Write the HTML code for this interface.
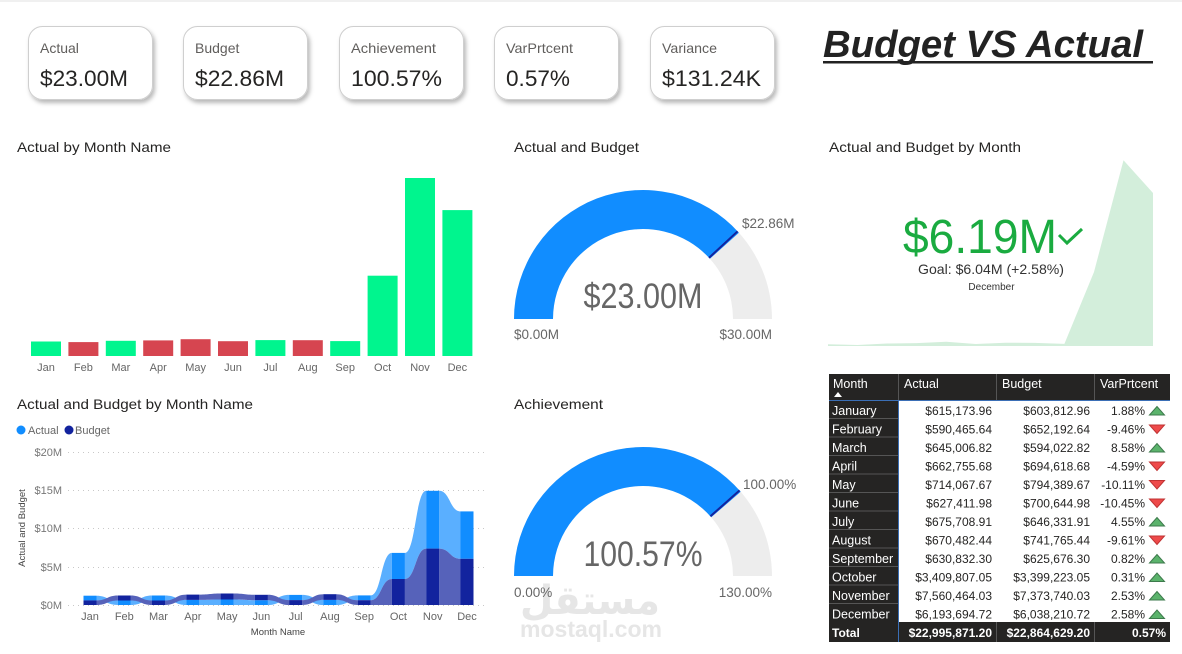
<!DOCTYPE html>
<html><head><meta charset="utf-8"><style>
html,body{margin:0;padding:0;background:#fff;}
svg{display:block;}
text{font-family:"Liberation Sans","DejaVu Sans",sans-serif;}
</style></head><body>
<svg width="1182" height="654" viewBox="0 0 1182 654" xmlns="http://www.w3.org/2000/svg">
<defs>
<filter id="sh" x="-20%" y="-20%" width="150%" height="160%">
<feDropShadow dx="2" dy="3" stdDeviation="2" flood-color="#000" flood-opacity="0.28"/>
</filter>
</defs>
<rect x="0" y="0" width="1182" height="654" fill="#fff"/>
<rect x="0" y="0" width="1182" height="2" fill="#f0f0f0"/>

<!-- KPI cards -->
<g filter="url(#sh)" fill="#fff" stroke="#cfcfcf" stroke-width="1">
<rect x="28.5" y="26.5" width="124" height="73" rx="14"/>
<rect x="183.5" y="26.5" width="124" height="73" rx="14"/>
<rect x="339.5" y="26.5" width="124" height="73" rx="14"/>
<rect x="494.5" y="26.5" width="124" height="73" rx="14"/>
<rect x="650.5" y="26.5" width="124" height="73" rx="14"/>
</g>
<g font-size="14" fill="#605e5c">
<text x="40" y="53">Actual</text>
<text x="195" y="53">Budget</text>
<text x="351" y="53" textLength="85" lengthAdjust="spacingAndGlyphs">Achievement</text>
<text x="506" y="53" textLength="67" lengthAdjust="spacingAndGlyphs">VarPrtcent</text>
<text x="662" y="53" textLength="55" lengthAdjust="spacingAndGlyphs">Variance</text>
</g>
<g font-size="22" fill="#252423">
<text x="40" y="86" textLength="88" lengthAdjust="spacingAndGlyphs">$23.00M</text>
<text x="195" y="86" textLength="89" lengthAdjust="spacingAndGlyphs">$22.86M</text>
<text x="351" y="86" textLength="91" lengthAdjust="spacingAndGlyphs">100.57%</text>
<text x="506" y="86" textLength="64" lengthAdjust="spacingAndGlyphs">0.57%</text>
<text x="662" y="86" textLength="99" lengthAdjust="spacingAndGlyphs">$131.24K</text>
</g>

<!-- Title -->
<text x="823" y="57" font-size="38" font-weight="bold" font-style="italic" fill="#222" textLength="320" lengthAdjust="spacingAndGlyphs">Budget VS Actual</text>
<rect x="823" y="61" width="330" height="2.5" fill="#222"/>

<!-- Section titles -->
<g font-size="14" fill="#252423">
<text x="17" y="152" textLength="154" lengthAdjust="spacingAndGlyphs">Actual by Month Name</text>
<text x="514" y="152" textLength="125" lengthAdjust="spacingAndGlyphs">Actual and Budget</text>
<text x="829" y="152" textLength="192" lengthAdjust="spacingAndGlyphs">Actual and Budget by Month</text>
<text x="17" y="409" textLength="236" lengthAdjust="spacingAndGlyphs">Actual and Budget by Month Name</text>
<text x="514" y="409" textLength="89" lengthAdjust="spacingAndGlyphs">Achievement</text>
</g>

<!-- Bar chart -->
<g>
<rect x="31" y="341.5" width="30" height="14.5" fill="#00f58e"/>
<rect x="68.4" y="342.1" width="30" height="13.9" fill="#d64550"/>
<rect x="105.8" y="340.8" width="30" height="15.2" fill="#00f58e"/>
<rect x="143.2" y="340.4" width="30" height="15.6" fill="#d64550"/>
<rect x="180.6" y="339.2" width="30" height="16.8" fill="#d64550"/>
<rect x="218" y="341.2" width="30" height="14.8" fill="#d64550"/>
<rect x="255.4" y="340.1" width="30" height="15.9" fill="#00f58e"/>
<rect x="292.8" y="340.2" width="30" height="15.8" fill="#d64550"/>
<rect x="330.2" y="341.1" width="30" height="14.9" fill="#00f58e"/>
<rect x="367.6" y="275.7" width="30" height="80.3" fill="#00f58e"/>
<rect x="405" y="178" width="30" height="178" fill="#00f58e"/>
<rect x="442.4" y="210.1" width="30" height="145.9" fill="#00f58e"/>
</g>
<g font-size="11" fill="#666" text-anchor="middle">
<text x="46" y="371">Jan</text><text x="83.4" y="371">Feb</text><text x="120.8" y="371">Mar</text>
<text x="158.2" y="371">Apr</text><text x="195.6" y="371">May</text><text x="233" y="371">Jun</text>
<text x="270.4" y="371">Jul</text><text x="307.8" y="371">Aug</text><text x="345.2" y="371">Sep</text>
<text x="382.6" y="371">Oct</text><text x="420" y="371">Nov</text><text x="457.4" y="371">Dec</text>
</g>

<!-- Ribbon chart -->
<circle cx="21" cy="430" r="4.5" fill="#118dff"/>
<text x="28" y="434" font-size="11" fill="#666">Actual</text>
<circle cx="69" cy="430" r="4.5" fill="#12239e"/>
<text x="75" y="434" font-size="11" fill="#666">Budget</text>
<g stroke="#c8c8c8" stroke-width="1" stroke-dasharray="1,4">
<line x1="68" y1="452.5" x2="487" y2="452.5"/>
<line x1="68" y1="490.5" x2="487" y2="490.5"/>
<line x1="68" y1="528.5" x2="487" y2="528.5"/>
<line x1="68" y1="567.5" x2="487" y2="567.5"/>
<line x1="68" y1="605.5" x2="487" y2="605.5"/>
</g>
<g font-size="11" fill="#777" text-anchor="end">
<text x="62" y="456">$20M</text><text x="62" y="494">$15M</text><text x="62" y="532">$10M</text>
<text x="62" y="571">$5M</text><text x="62" y="609">$0M</text>
</g>
<text transform="translate(25,528) rotate(-90)" font-size="9.5" fill="#444" text-anchor="middle">Actual and Budget</text>
<g fill="#5aafff">
<path d="M96.5,595.7 C107.2,595.7 107.2,600.5 117.8,600.5 L117.8,605 C107.2,605 107.2,600.4 96.5,600.4 Z"/>
<path d="M130.8,600.5 C141.4,600.5 141.4,595.5 152,595.5 L152,600.5 C141.4,600.5 141.4,605 130.8,605 Z"/>
<path d="M165,595.5 C175.7,595.5 175.7,599.9 186.3,599.9 L186.3,605 C175.7,605 175.7,600.5 165,600.5 Z"/>
<path d="M199.3,599.9 C210,599.9 210,599.5 220.6,599.5 L220.6,605 C210,605 210,605 199.3,605 Z"/>
<path d="M233.6,599.5 C244.3,599.5 244.3,600.2 254.9,600.2 L254.9,605 C244.3,605 244.3,605 233.6,605 Z"/>
<path d="M267.9,600.2 C278.5,600.2 278.5,594.9 289.1,594.9 L289.1,600.1 C278.5,600.1 278.5,605 267.9,605 Z"/>
<path d="M302.1,594.9 C312.8,594.9 312.8,599.9 323.4,599.9 L323.4,605 C312.8,605 312.8,600.1 302.1,600.1 Z"/>
<path d="M336.4,599.9 C347.1,599.9 347.1,595.4 357.7,595.4 L357.7,600.2 C347.1,600.2 347.1,605 336.4,605 Z"/>
<path d="M370.7,595.4 C381.3,595.4 381.3,552.9 391.9,552.9 L391.9,579 C381.3,579 381.3,600.2 370.7,600.2 Z"/>
<path d="M404.9,552.9 C415.6,552.9 415.6,490.8 426.2,490.8 L426.2,548.6 C415.6,548.6 415.6,579 404.9,579 Z"/>
<path d="M439.2,490.8 C449.9,490.8 449.9,511.4 460.5,511.4 L460.5,558.8 C449.9,558.8 449.9,548.6 439.2,548.6 Z"/>
</g>
<g fill="#5662ba">
<path d="M96.5,600.4 C107.2,600.4 107.2,595.5 117.8,595.5 L117.8,600.5 C107.2,600.5 107.2,605 96.5,605 Z"/>
<path d="M130.8,595.5 C141.4,595.5 141.4,600.5 152,600.5 L152,605 C141.4,605 141.4,600.5 130.8,600.5 Z"/>
<path d="M165,600.5 C175.7,600.5 175.7,594.6 186.3,594.6 L186.3,599.9 C175.7,599.9 175.7,605 165,605 Z"/>
<path d="M199.3,594.6 C210,594.6 210,593.5 220.6,593.5 L220.6,599.5 C210,599.5 210,599.9 199.3,599.9 Z"/>
<path d="M233.6,593.5 C244.3,593.5 244.3,594.8 254.9,594.8 L254.9,600.2 C244.3,600.2 244.3,599.5 233.6,599.5 Z"/>
<path d="M267.9,594.8 C278.5,594.8 278.5,600.1 289.1,600.1 L289.1,605 C278.5,605 278.5,600.2 267.9,600.2 Z"/>
<path d="M302.1,600.1 C312.8,600.1 312.8,594.2 323.4,594.2 L323.4,599.9 C312.8,599.9 312.8,605 302.1,605 Z"/>
<path d="M336.4,594.2 C347.1,594.2 347.1,600.2 357.7,600.2 L357.7,605 C347.1,605 347.1,599.9 336.4,599.9 Z"/>
<path d="M370.7,600.2 C381.3,600.2 381.3,579 391.9,579 L391.9,605 C381.3,605 381.3,605 370.7,605 Z"/>
<path d="M404.9,579 C415.6,579 415.6,548.6 426.2,548.6 L426.2,605 C415.6,605 415.6,605 404.9,605 Z"/>
<path d="M439.2,548.6 C449.9,548.6 449.9,558.8 460.5,558.8 L460.5,605 C449.9,605 449.9,605 439.2,605 Z"/>
</g>
<!-- ribbon bars: actual -->
<g fill="#118dff">
<rect x="83.5" y="595.7" width="13" height="4.7"/>
<rect x="117.8" y="600.5" width="13" height="4.5"/>
<rect x="152" y="595.5" width="13" height="5"/>
<rect x="186.3" y="599.9" width="13" height="5.1"/>
<rect x="220.6" y="599.5" width="13" height="5.5"/>
<rect x="254.9" y="600.2" width="13" height="4.8"/>
<rect x="289.1" y="594.9" width="13" height="5.2"/>
<rect x="323.4" y="599.9" width="13" height="5.1"/>
<rect x="357.7" y="595.4" width="13" height="4.8"/>
<rect x="391.9" y="552.9" width="13" height="26.1"/>
<rect x="426.2" y="490.8" width="13" height="57.8"/>
<rect x="460.5" y="511.4" width="13" height="47.4"/>
</g>
<g fill="#12239e">
<rect x="83.5" y="600.4" width="13" height="4.6"/>
<rect x="117.8" y="595.5" width="13" height="5"/>
<rect x="152" y="600.5" width="13" height="4.5"/>
<rect x="186.3" y="594.6" width="13" height="5.3"/>
<rect x="220.6" y="593.5" width="13" height="6"/>
<rect x="254.9" y="594.8" width="13" height="5.4"/>
<rect x="289.1" y="600.1" width="13" height="4.9"/>
<rect x="323.4" y="594.2" width="13" height="5.7"/>
<rect x="357.7" y="600.2" width="13" height="4.8"/>
<rect x="391.9" y="579" width="13" height="26"/>
<rect x="426.2" y="548.6" width="13" height="56.4"/>
<rect x="460.5" y="558.8" width="13" height="46.2"/>
</g>
<g font-size="11" fill="#666" text-anchor="middle">
<text x="90" y="620">Jan</text><text x="124.3" y="620">Feb</text><text x="158.5" y="620">Mar</text>
<text x="192.8" y="620">Apr</text><text x="227.1" y="620">May</text><text x="261.4" y="620">Jun</text>
<text x="295.6" y="620">Jul</text><text x="329.9" y="620">Aug</text><text x="364.2" y="620">Sep</text>
<text x="398.4" y="620">Oct</text><text x="432.7" y="620">Nov</text><text x="467" y="620">Dec</text>
</g>
<text x="278" y="635" font-size="9.5" fill="#444" text-anchor="middle">Month Name</text>

<!-- Watermark -->
<text x="590" y="614" font-size="40" font-weight="bold" fill="#e6e6e6" text-anchor="middle" font-family="DejaVu Sans, sans-serif" textLength="140" lengthAdjust="spacingAndGlyphs">مستقل</text>
<text x="520" y="637" font-size="23" font-weight="bold" fill="#e6e6e6" textLength="142" lengthAdjust="spacingAndGlyphs">mostaql.com</text>

<!-- Gauge 1 -->
<path d="M514,319 A129,129 0 0 1 772,319 L733,319 A90,90 0 0 0 553,319 Z" fill="#ededed"/>
<path d="M514,319 A129,129 0 0 1 738.9,232.7 L709.9,258.8 A90,90 0 0 0 553,319 Z" fill="#118dff"/>
<line x1="737.6" y1="231.3" x2="709" y2="257.8" stroke="#12239e" stroke-width="2"/>
<text x="643" y="308" font-size="35" fill="#666" text-anchor="middle" textLength="119" lengthAdjust="spacingAndGlyphs">$23.00M</text>
<g font-size="13.5" fill="#666">
<text x="742" y="228">$22.86M</text>
<text x="514" y="339">$0.00M</text>
<text x="772" y="339" text-anchor="end">$30.00M</text>
</g>

<!-- Gauge 2 -->
<path d="M514,576 A129,129 0 0 1 772,576 L733,576 A90,90 0 0 0 553,576 Z" fill="#ededed"/>
<path d="M514,576 A129,129 0 0 1 740.7,491.8 L711.2,517.3 A90,90 0 0 0 553,576 Z" fill="#118dff"/>
<line x1="739.6" y1="490.4" x2="710.4" y2="516.3" stroke="#12239e" stroke-width="2"/>
<text x="643" y="566" font-size="35" fill="#666" text-anchor="middle" textLength="119" lengthAdjust="spacingAndGlyphs">100.57%</text>
<g font-size="13.5" fill="#666">
<text x="743" y="489">100.00%</text>
<text x="514" y="597">0.00%</text>
<text x="772" y="597" text-anchor="end">130.00%</text>
</g>

<!-- KPI with sparkline -->
<path d="M828,344.3 L857.5,345 L887.1,343.5 L916.6,343.1 L946.2,341.7 L975.7,344 L1005.3,342.7 L1034.8,342.9 L1064.4,343.9 L1094,272 L1123.5,160.3 L1153,193 L1153,346 L828,346 Z" fill="#d3eedb"/>
<text x="903" y="253" font-size="48" fill="#1aab40" textLength="154" lengthAdjust="spacingAndGlyphs">$6.19M</text>
<polyline points="1059,235 1067,243 1082,229" fill="none" stroke="#1aab40" stroke-width="3"/>
<text x="918" y="274" font-size="14" fill="#333" textLength="146" lengthAdjust="spacingAndGlyphs">Goal: $6.04M (+2.58%)</text>
<text x="991.5" y="290" font-size="10" fill="#333" text-anchor="middle">December</text>

<!-- Table -->
<rect x="829" y="374" width="341" height="26" fill="#252423"/>
<rect x="829" y="400" width="69.5" height="222" fill="#252423"/>
<rect x="829" y="622" width="341" height="20" fill="#252423"/>
<g stroke="#555" stroke-width="1">
<line x1="898.5" y1="374" x2="898.5" y2="400"/>
<line x1="996.5" y1="374" x2="996.5" y2="400"/>
<line x1="1094.5" y1="374" x2="1094.5" y2="400"/>
<line x1="996.5" y1="622" x2="996.5" y2="642"/>
<line x1="1094.5" y1="622" x2="1094.5" y2="642"/>
<line x1="829" y1="418.5" x2="898" y2="418.5"/>
<line x1="829" y1="437" x2="898" y2="437"/>
<line x1="829" y1="455.5" x2="898" y2="455.5"/>
<line x1="829" y1="474" x2="898" y2="474"/>
<line x1="829" y1="492.5" x2="898" y2="492.5"/>
<line x1="829" y1="511" x2="898" y2="511"/>
<line x1="829" y1="529.5" x2="898" y2="529.5"/>
<line x1="829" y1="548" x2="898" y2="548"/>
<line x1="829" y1="566.5" x2="898" y2="566.5"/>
<line x1="829" y1="585" x2="898" y2="585"/>
<line x1="829" y1="603.5" x2="898" y2="603.5"/>
</g>
<line x1="898.5" y1="400" x2="898.5" y2="642" stroke="#3b6fb6" stroke-width="1"/>
<line x1="829" y1="400.5" x2="1170" y2="400.5" stroke="#3b6fb6" stroke-width="1"/>
<g font-size="12.5" fill="#fff">
<text x="833" y="388">Month</text>
<text x="904" y="388">Actual</text>
<text x="1002" y="388">Budget</text>
<text x="1100" y="388">VarPrtcent</text>
</g>
<path d="M834,397 L838,392 L842,397 Z" fill="#fff"/>
<g font-size="12.5" fill="#fff">
<text x="832" y="415">January</text>
<text x="832" y="433.5">February</text>
<text x="832" y="452">March</text>
<text x="832" y="470.5">April</text>
<text x="832" y="489">May</text>
<text x="832" y="507.5">June</text>
<text x="832" y="526">July</text>
<text x="832" y="544.5">August</text>
<text x="832" y="563">September</text>
<text x="832" y="581.5">October</text>
<text x="832" y="600">November</text>
<text x="832" y="618.5">December</text>
</g>
<g font-size="12" fill="#252423" text-anchor="end">
<text x="992" y="415">$615,173.96</text><text x="1090" y="415">$603,812.96</text><text x="1145" y="415">1.88%</text>
<text x="992" y="433.5">$590,465.64</text><text x="1090" y="433.5">$652,192.64</text><text x="1145" y="433.5">-9.46%</text>
<text x="992" y="452">$645,006.82</text><text x="1090" y="452">$594,022.82</text><text x="1145" y="452">8.58%</text>
<text x="992" y="470.5">$662,755.68</text><text x="1090" y="470.5">$694,618.68</text><text x="1145" y="470.5">-4.59%</text>
<text x="992" y="489">$714,067.67</text><text x="1090" y="489">$794,389.67</text><text x="1145" y="489">-10.11%</text>
<text x="992" y="507.5">$627,411.98</text><text x="1090" y="507.5">$700,644.98</text><text x="1145" y="507.5">-10.45%</text>
<text x="992" y="526">$675,708.91</text><text x="1090" y="526">$646,331.91</text><text x="1145" y="526">4.55%</text>
<text x="992" y="544.5">$670,482.44</text><text x="1090" y="544.5">$741,765.44</text><text x="1145" y="544.5">-9.61%</text>
<text x="992" y="563">$630,832.30</text><text x="1090" y="563">$625,676.30</text><text x="1145" y="563">0.82%</text>
<text x="992" y="581.5">$3,409,807.05</text><text x="1090" y="581.5">$3,399,223.05</text><text x="1145" y="581.5">0.31%</text>
<text x="992" y="600">$7,560,464.03</text><text x="1090" y="600">$7,373,740.03</text><text x="1145" y="600">2.53%</text>
<text x="992" y="618.5">$6,193,694.72</text><text x="1090" y="618.5">$6,038,210.72</text><text x="1145" y="618.5">2.58%</text>
</g>
<g stroke-width="1">
<path d="M1149.5,415 L1157,406.5 L1164.5,415 Z" fill="#5bb36c" stroke="#3d7a4c"/>
<path d="M1149.5,425 L1157,433.5 L1164.5,425 Z" fill="#ee4a4a" stroke="#c03333"/>
<path d="M1149.5,452 L1157,443.5 L1164.5,452 Z" fill="#5bb36c" stroke="#3d7a4c"/>
<path d="M1149.5,462 L1157,470.5 L1164.5,462 Z" fill="#ee4a4a" stroke="#c03333"/>
<path d="M1149.5,480.5 L1157,489 L1164.5,480.5 Z" fill="#ee4a4a" stroke="#c03333"/>
<path d="M1149.5,499 L1157,507.5 L1164.5,499 Z" fill="#ee4a4a" stroke="#c03333"/>
<path d="M1149.5,526 L1157,517.5 L1164.5,526 Z" fill="#5bb36c" stroke="#3d7a4c"/>
<path d="M1149.5,536 L1157,544.5 L1164.5,536 Z" fill="#ee4a4a" stroke="#c03333"/>
<path d="M1149.5,563 L1157,554.5 L1164.5,563 Z" fill="#5bb36c" stroke="#3d7a4c"/>
<path d="M1149.5,581.5 L1157,573 L1164.5,581.5 Z" fill="#5bb36c" stroke="#3d7a4c"/>
<path d="M1149.5,600 L1157,591.5 L1164.5,600 Z" fill="#5bb36c" stroke="#3d7a4c"/>
<path d="M1149.5,618.5 L1157,610 L1164.5,618.5 Z" fill="#5bb36c" stroke="#3d7a4c"/>
</g>
<g font-size="12" font-weight="bold" fill="#fff">
<text x="832" y="637">Total</text>
<text x="992" y="637" text-anchor="end">$22,995,871.20</text>
<text x="1090" y="637" text-anchor="end">$22,864,629.20</text>
<text x="1166" y="637" text-anchor="end">0.57%</text>
</g>
</svg>
</body></html>
